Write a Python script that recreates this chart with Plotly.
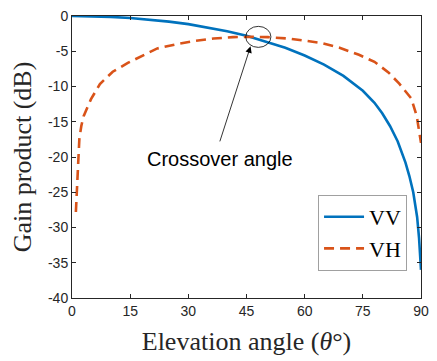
import plotly.graph_objects as go

# Elevation angle (deg) and gain product (dB) for the co-polar (VV) link
vv_angle = [0, 5, 10, 15, 20, 25, 30, 35, 40, 45, 50, 55, 60, 65, 70, 75,
            78, 80, 82, 84, 86, 87, 88, 89, 89.5, 90]
vv_gain = [0.0, -0.04, -0.13, -0.28, -0.5, -0.8, -1.15, -1.6, -2.15, -2.8,
           -3.6, -4.5, -5.6, -6.9, -8.5, -10.6, -12.3, -13.8, -15.6, -17.8,
           -20.8, -22.7, -25.0, -28.5, -31.5, -36.0]

# Elevation angle (deg) and gain product (dB) for the cross-polar (VH) link
vh_angle = [1.0, 1.1, 1.5, 1.9, 2.4, 3.0, 4.9, 7.2, 10.5, 14.4, 18.6, 22, 27,
            31.5, 36.5, 41.5, 46, 50.5, 56, 64, 69, 74, 78, 81.6, 84.4, 87.5,
            88.9, 89.7, 90]
vh_gain = [-27.8, -26.9, -22.0, -17.4, -15.6, -14.2, -11.8, -9.65, -7.9, -6.65,
           -5.5, -4.6, -4.0, -3.55, -3.2, -3.0, -2.95, -3.0, -3.2, -3.8, -4.5,
           -5.5, -6.5, -8.0, -9.6, -11.7, -14.2, -17.0, -18.0]

x_ticks = [0, 15, 30, 45, 60, 75, 90]
y_ticks = [0, -5, -10, -15, -20, -25, -30, -35, -40]

AXIS = "#262626"
SERIF = "Liberation Serif"
SANS = "Liberation Sans"

fig = go.Figure()
fig.add_trace(go.Scatter(x=vv_angle, y=vv_gain, mode="lines", name="VV",
                         line=dict(color="#0072BD", width=2.6)))
fig.add_trace(go.Scatter(x=vh_angle, y=vh_gain, mode="lines", name="VH",
                         line=dict(color="#D95319", width=2.6, dash="10px,6px")))

# Circle around the crossover point
fig.add_shape(type="circle", xref="x", yref="y", x0=44.8, x1=51.3,
              y0=-4.45, y1=-1.47, line=dict(color="black", width=0.8))

# Arrow pointing at the crossover
fig.add_annotation(x=46.05, y=-4.3, ax=38.0, ay=-18.0, xref="x", yref="y",
                   axref="x", ayref="y", text="", showarrow=True,
                   arrowhead=2, arrowsize=1.6, arrowwidth=0.8,
                   arrowcolor="black")
fig.add_annotation(x=38.2, y=-20.35, xref="x", yref="y",
                   text="Crossover angle", showarrow=False,
                   font=dict(family=SANS, size=20, color="black"))

axis_common = dict(showline=True, linecolor=AXIS, linewidth=1, mirror="ticks",
                   ticks="inside", ticklen=4, tickcolor=AXIS, showgrid=False,
                   zeroline=False, tickfont=dict(family=SANS, size=14, color=AXIS))

fig.update_xaxes(range=[0, 90], tickvals=x_ticks,
                 ticktext=[str(v) for v in x_ticks],
                 title=dict(text="Elevation angle (<i>θ</i>°)", standoff=14,
                            font=dict(family=SERIF, size=26, color=AXIS)),
                 **axis_common)
fig.update_yaxes(range=[-40, 0], tickvals=y_ticks,
                 ticktext=[str(v) for v in y_ticks],
                 title=dict(text="Gain product (dB)", standoff=8,
                            font=dict(family=SERIF, size=26, color=AXIS)),
                 **axis_common)

fig.update_layout(
    width=437, height=361,
    margin=dict(l=72, r=8, t=11, b=63),
    plot_bgcolor="white", paper_bgcolor="white",
    showlegend=True,
    legend=dict(x=0.96, y=0.096, xanchor="right", yanchor="bottom",
                bgcolor="white", bordercolor="#a0a0a0", borderwidth=1,
                font=dict(family=SERIF, size=22, color="black"),
                itemwidth=40),
)

fig.write_html("out.html")
